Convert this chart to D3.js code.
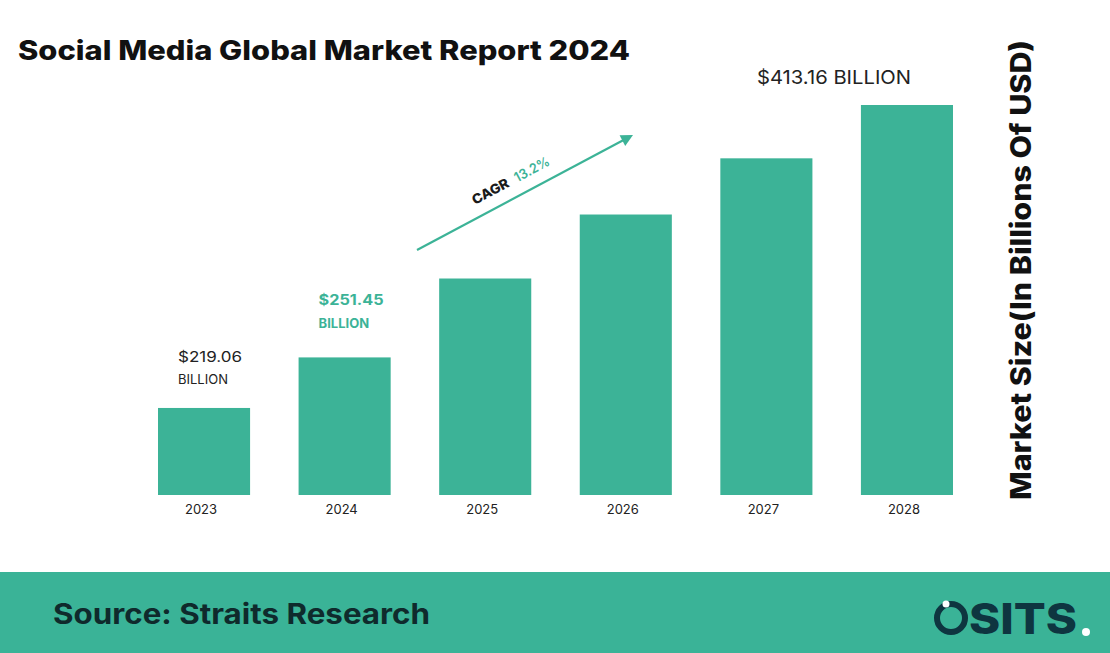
<!DOCTYPE html>
<html><head><meta charset="utf-8">
<script src="https://cdn.jsdelivr.net/npm/d3@7"></script>
<style>html,body{margin:0;padding:0;background:#fff;}svg{display:block;}</style>
</head><body>
<svg id="chart" width="1110" height="653"></svg>
<script>
const years = ["2023","2024","2025","2026","2027","2028"];
const values = [219.06, 251.45, 302, 343, 379, 413.16];
const labelTop = ["$219.06", "$251.45", "", "", "", "$413.16 BILLION"];
const labelBottom = ["BILLION", "BILLION", "", "", "", ""];
const cagr = "13.2%";
const title = "Social Media Global Market Report 2024";
const yTitle = "Market Size(In Billions Of USD)";
const source = "Source: Straits Research";

const teal = "#3cb397", navy = "#0e3540";
const svg = d3.select("#chart");
const W = 1110, H = 653;
const F = "Inter, 'Open Sans', sans-serif";

const x = d3.scaleBand().domain(years).range([158, 953]).paddingInner(0.345).paddingOuter(0);
const y = d3.scaleLinear().domain([163.3, 413.16]).range([495, 105]);

svg.append("text").attr("x", 18).attr("y", 60).text(title)
  .attr("font-family", F).attr("font-weight", 800)
  .attr("font-size", 27).attr("fill", "#111")
  .attr("textLength", 612).attr("lengthAdjust", "spacingAndGlyphs");

svg.selectAll("rect.bar").data(values).join("rect").attr("class", "bar")
  .attr("x", (d, i) => x(years[i])).attr("width", x.bandwidth())
  .attr("y", d => y(d)).attr("height", d => y.range()[0] - y(d)).attr("fill", teal);

const xAxis = svg.append("g").attr("transform", "translate(-3,495)")
  .call(d3.axisBottom(x).tickSize(0).tickPadding(10));
xAxis.select(".domain").remove();
xAxis.selectAll("text").attr("font-family", F).attr("font-size", 13).attr("fill", "#222");

// value labels
svg.append("text").attr("x", x("2023") + 20).attr("y", 362).text(labelTop[0])
  .attr("font-family", F).attr("font-size", 14).attr("fill", "#222")
  .attr("textLength", 64).attr("lengthAdjust", "spacingAndGlyphs");
svg.append("text").attr("x", x("2023") + 20).attr("y", 384).text(labelBottom[0])
  .attr("font-family", F).attr("font-size", 13).attr("fill", "#222");
svg.append("text").attr("x", x("2024") + 20).attr("y", 305).text(labelTop[1])
  .attr("font-family", F).attr("font-weight", 700).attr("font-size", 14).attr("fill", teal)
  .attr("textLength", 65).attr("lengthAdjust", "spacingAndGlyphs");
svg.append("text").attr("x", x("2024") + 20).attr("y", 328).text(labelBottom[1])
  .attr("font-family", F).attr("font-weight", 700).attr("font-size", 13).attr("fill", teal);
svg.append("text").attr("x", 757).attr("y", 84).text(labelTop[5])
  .attr("font-family", F).attr("font-size", 19).attr("fill", "#222")
  .attr("textLength", 154).attr("lengthAdjust", "spacingAndGlyphs");

// CAGR arrow
const ax0 = 417, ay0 = 250, ax1 = 633, ay1 = 135;
const ang = Math.atan2(ay1 - ay0, ax1 - ax0) * 180 / Math.PI;
svg.append("line").attr("x1", ax0).attr("y1", ay0).attr("x2", ax1 - 8).attr("y2", ay1 + 4.3)
  .attr("stroke", teal).attr("stroke-width", 2.2);
svg.append("path").attr("transform", `translate(${ax1},${ay1}) rotate(${ang})`)
  .attr("d", "M0,0 L-12,-6 L-12,6 Z").attr("fill", teal);
const tg = svg.append("g").attr("transform", `translate(475,205) rotate(${ang})`);
tg.append("text").attr("x", 0).attr("y", 0).text("CAGR")
  .attr("font-family", F).attr("font-weight", 800).attr("font-size", 13.5).attr("fill", "#1a1a1a")
  .attr("textLength", 40).attr("lengthAdjust", "spacingAndGlyphs");
tg.append("text").attr("x", 48).attr("y", 0).text(cagr)
  .attr("font-family", F).attr("font-weight", 600).attr("font-size", 13.5).attr("fill", teal)
  .attr("textLength", 38).attr("lengthAdjust", "spacingAndGlyphs");

// y title
svg.append("text").attr("transform", "translate(1031,500) rotate(-90)").text(yTitle)
  .attr("font-family", F).attr("font-weight", 800)
  .attr("font-size", 28).attr("fill", "#111")
  .attr("textLength", 460).attr("lengthAdjust", "spacingAndGlyphs");

// footer
svg.append("rect").attr("x", 0).attr("y", 572).attr("width", W).attr("height", H - 572).attr("fill", "#3ab397");
svg.append("text").attr("x", 53).attr("y", 624).text(source)
  .attr("font-family", F).attr("font-weight", 700).attr("font-size", 28).attr("fill", "#0f2a2c")
  .attr("textLength", 377).attr("lengthAdjust", "spacingAndGlyphs");

// logo
const lg = svg.append("g");
lg.append("circle").attr("cx", 951).attr("cy", 618).attr("r", 14).attr("fill", "none")
  .attr("stroke", navy).attr("stroke-width", 6);
lg.append("circle").attr("cx", 946).attr("cy", 604).attr("r", 3.5).attr("fill", "#fff");
lg.append("text").attr("x", 969).attr("y", 634).text("SITS")
  .attr("font-family", F).attr("font-weight", 800).attr("font-size", 42).attr("fill", navy)
  .attr("textLength", 108).attr("lengthAdjust", "spacingAndGlyphs");
lg.append("circle").attr("cx", 1086).attr("cy", 632).attr("r", 4).attr("fill", "#fff");
</script>
</body></html>
